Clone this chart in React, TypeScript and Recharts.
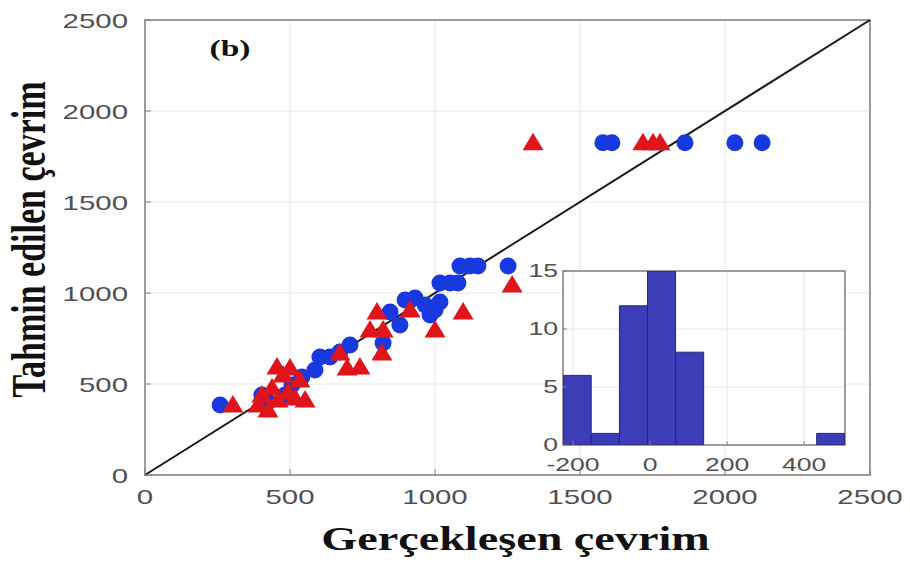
import React from 'react';
import {
  ScatterChart,
  Scatter,
  XAxis,
  YAxis,
  CartesianGrid,
  ReferenceLine,
  ReferenceArea,
  Label,
  BarChart,
  Bar,
} from 'recharts';

// main plot
const mainTicks = [0, 500, 1000, 1500, 2000, 2500];

const blueActual = [259, 403, 424, 483, 507, 541, 586, 603, 638, 672, 707, 821, 845, 879, 897, 931, 966, 983, 1000, 1017, 1017, 1052, 1079, 1086, 1121, 1148, 1252, 1579, 1610, 1862, 2034, 2128];
const bluePredicted = [385, 440, 401, 440, 495, 538, 577, 648, 648, 676, 714, 725, 896, 824, 962, 973, 934, 879, 907, 951, 1055, 1055, 1055, 1148, 1148, 1148, 1148, 1825, 1825, 1825, 1825, 1825];

const redActual = [303, 390, 403, 424, 438, 455, 459, 476, 493, 500, 517, 534, 552, 672, 697, 741, 776, 800, 817, 821, 914, 1000, 1097, 1266, 1338, 1717, 1752, 1776];
const redPredicted = [385, 385, 440, 357, 478, 593, 412, 549, 456, 588, 423, 522, 412, 670, 588, 593, 797, 896, 670, 797, 907, 797, 896, 1044, 1825, 1825, 1825, 1825];

// inset histogram
const histBins = [-189, -116, -43, 30, 103, 177, 250, 323, 396, 469];
const histCounts = [6, 1, 12, 15, 8, 0, 0, 0, 0, 1];
const histXTicks = [-200, 0, 200, 400];
const histYTicks = [0, 5, 10, 15];

const blueData = blueActual.map((x, i) => ({ x, y: bluePredicted[i] }));
const redData = redActual.map((x, i) => ({ x, y: redPredicted[i] }));
const histData = histBins.map((bin, i) => ({ bin, count: histCounts[i] }));

const STRETCH = 1.4;
const TICK_FONT = '"Liberation Sans", Arial, sans-serif';
const TITLE_FONT = '"Liberation Serif", "Times New Roman", serif';

const makeTick = (anchor: string, dy: number, size: number) => (props: any) => {
  const { x, y, payload } = props;
  return (
    <g transform={`translate(${x},${y}) scale(${STRETCH},1)`}>
      <text x={0} y={0} dy={dy} textAnchor={anchor} fontFamily={TICK_FONT} fontSize={size} fill="#505050">
        {payload.value}
      </text>
    </g>
  );
};

const BlueDot = (props: any) => <circle cx={props.cx} cy={props.cy} r={8.5} fill="#1838e0" />;
const RedTri = (props: any) => {
  const { cx, cy } = props;
  return (
    <polygon
      points={`${cx},${cy - 10} ${cx + 10.5},${cy + 7.5} ${cx - 10.5},${cy + 7.5}`}
      fill="#e0151b"
    />
  );
};

const XTitle = (props: any) => {
  const { x, width } = props.viewBox;
  return (
    <g transform={`translate(${x + width / 2 + 8},550) scale(${STRETCH},1)`}>
      <text x={0} y={0} textAnchor="middle" fontFamily={TITLE_FONT} fontWeight="bold" fontSize={33} fill="#111">
        Gerçekleşen çevrim
      </text>
    </g>
  );
};

const YTitle = (props: any) => {
  const { y, height } = props.viewBox;
  return (
    <g transform={`translate(45,${y + height / 2 - 8}) scale(${STRETCH},1) rotate(-90)`}>
      <text x={0} y={0} textAnchor="middle" fontFamily={TITLE_FONT} fontWeight="bold" fontSize={34} fill="#111">
        Tahmin edilen çevrim
      </text>
    </g>
  );
};

const PanelTag = (props: any) => {
  const { x, y } = props.viewBox;
  return (
    <g transform={`translate(${x + 85},${y + 36}) scale(${STRETCH},1)`}>
      <text x={0} y={0} textAnchor="middle" fontFamily={TITLE_FONT} fontWeight="bold" fontSize={24} fill="#111">
        (b)
      </text>
    </g>
  );
};

export default function App() {
  return (
    <div style={{ position: 'absolute', left: 0, top: 0, width: 910, height: 563, background: '#fff' }}>
      <ScatterChart width={910} height={563} margin={{ top: 20, right: 40, bottom: 0, left: 0 }}>
        <CartesianGrid stroke="#e8e8e8" strokeWidth={1} />
        <XAxis
          type="number"
          dataKey="x"
          domain={[0, 2500]}
          ticks={mainTicks}
          height={88}
          axisLine={false}
          tickSize={-6}
          tickMargin={20}
          tickLine={{ stroke: '#808080' }}
          tick={makeTick('middle', 15, 21)}
          allowDataOverflow
        >
          <Label content={<XTitle />} />
        </XAxis>
        <YAxis
          type="number"
          dataKey="y"
          domain={[0, 2500]}
          ticks={mainTicks}
          width={145}
          axisLine={false}
          tickSize={-6}
          tickMargin={23}
          tickLine={{ stroke: '#808080' }}
          tick={makeTick('end', 7.5, 21)}
          allowDataOverflow
        >
          <Label content={<YTitle />} />
        </YAxis>
        <ReferenceLine
          segment={[{ x: 0, y: 0 }, { x: 2500, y: 2500 }]}
          stroke="#1a1a1a"
          strokeWidth={2}
        />
        <Scatter data={blueData} shape={<BlueDot />} isAnimationActive={false} />
        <Scatter data={redData} shape={<RedTri />} isAnimationActive={false} />
        <ReferenceArea x1={0} x2={2500} y1={0} y2={2500} fill="none" stroke="#808080" strokeWidth={1.5} ifOverflow="visible">
          <Label content={<PanelTag />} />
        </ReferenceArea>
      </ScatterChart>

      <div style={{ position: 'absolute', left: 520, top: 261 }}>
        <BarChart
          width={335}
          height={214}
          data={histData}
          margin={{ top: 10, right: 10, bottom: 0, left: 0 }}
          barCategoryGap={0}
          barGap={0}
        >
          <CartesianGrid fill="#fff" stroke="#e8e8e8" />
          <XAxis
            type="number"
            dataKey="bin"
            domain={[-226, 506]}
            ticks={histXTicks}
            height={30}
            axisLine={false}
            tickSize={-4}
            tickMargin={16}
            tickLine={{ stroke: '#808080' }}
            tick={makeTick('middle', 14, 19)}
            allowDataOverflow
          />
          <YAxis
            type="number"
            domain={[0, 15]}
            ticks={histYTicks}
            width={43}
            axisLine={false}
            tickSize={-4}
            tickMargin={9}
            tickLine={{ stroke: '#808080' }}
            tick={makeTick('end', 6, 19)}
            allowDataOverflow
          />
          <Bar dataKey="count" fill="#3d3db8" stroke="#25257a" strokeWidth={1} isAnimationActive={false} />
          <ReferenceArea x1={-226} x2={506} y1={0} y2={15} fill="none" stroke="#808080" strokeWidth={1.5} ifOverflow="visible" />
        </BarChart>
      </div>
    </div>
  );
}
